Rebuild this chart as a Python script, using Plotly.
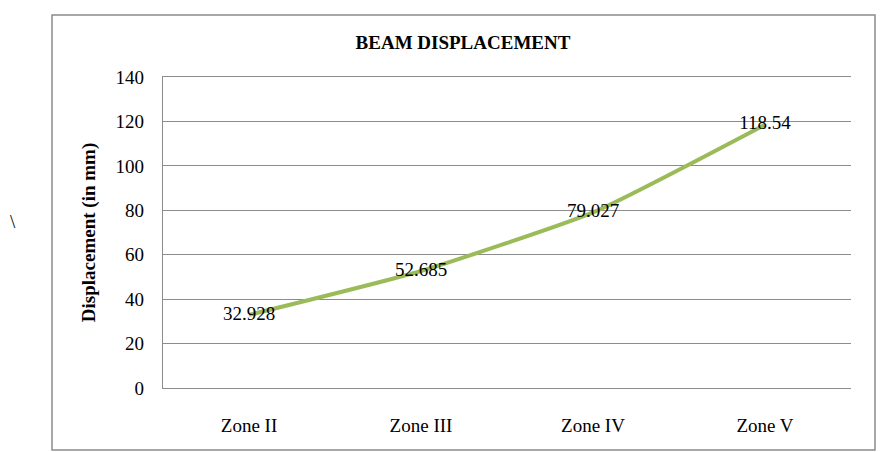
import plotly.graph_objects as go

categories = ["Zone II", "Zone III", "Zone IV", "Zone V"]
displacement = [32.928, 52.685, 79.027, 118.54]
labels = ["32.928", "52.685", "79.027", "118.54"]
y_ticks = [0, 20, 40, 60, 80, 100, 120, 140]

FONT = "Liberation Serif"

fig = go.Figure()
fig.add_trace(go.Scatter(
    x=categories, y=displacement, mode="lines+text",
    text=labels, textposition="middle center",
    textfont=dict(family=FONT, size=19, color="#000000"),
    line=dict(color="#9BBB59", width=4, shape="spline", smoothing=0.5),
    hoverinfo="skip", showlegend=False, cliponaxis=False,
))

L, R, T, B = 163, 31, 77, 64
W, H = 882, 452
pw, ph = W - L - R, H - T - B

def px(x):
    return (x - L) / pw

def py(y):
    return (H - B - y) / ph

fig.update_layout(
    width=W, height=H,
    margin=dict(l=L, r=R, t=T, b=B),
    paper_bgcolor="white", plot_bgcolor="white",
    font=dict(family=FONT, size=19, color="#000000"),
    title=dict(text="<b>BEAM DISPLACEMENT</b>", x=463 / W, xanchor="center",
               y=1 - 42 / H, yanchor="middle",
               font=dict(family=FONT, size=19, color="#000000")),
    xaxis=dict(range=[-0.5, 3.5], showgrid=False, zeroline=False,
               showline=True, mirror=True, linecolor="#8C8C8C", linewidth=1.3,
               ticks="outside", ticklen=20, tickcolor="rgba(0,0,0,0)",
               tickfont=dict(family=FONT, size=19)),
    yaxis=dict(range=[0, 140], tickvals=y_ticks, showgrid=True,
               gridcolor="#8C8C8C", gridwidth=1.3, zeroline=False,
               showline=True, linecolor="#8C8C8C", linewidth=1.3,
               ticks="outside", ticklen=14, tickcolor="rgba(0,0,0,0)",
               tickfont=dict(family=FONT, size=19),
               title=dict(text="<b>Displacement (in mm)</b>", standoff=14,
                          font=dict(family=FONT, size=19))),
    shapes=[dict(type="rect", xref="paper", yref="paper",
                 x0=px(52), x1=px(875), y0=py(450), y1=py(15),
                 line=dict(color="#8C8C8C", width=1.5), layer="below")],
    annotations=[dict(text="\\", xref="paper", yref="paper", x=px(8), y=py(221),
                      showarrow=False, font=dict(family=FONT, size=19))],
)

fig.write_html("out.html")
